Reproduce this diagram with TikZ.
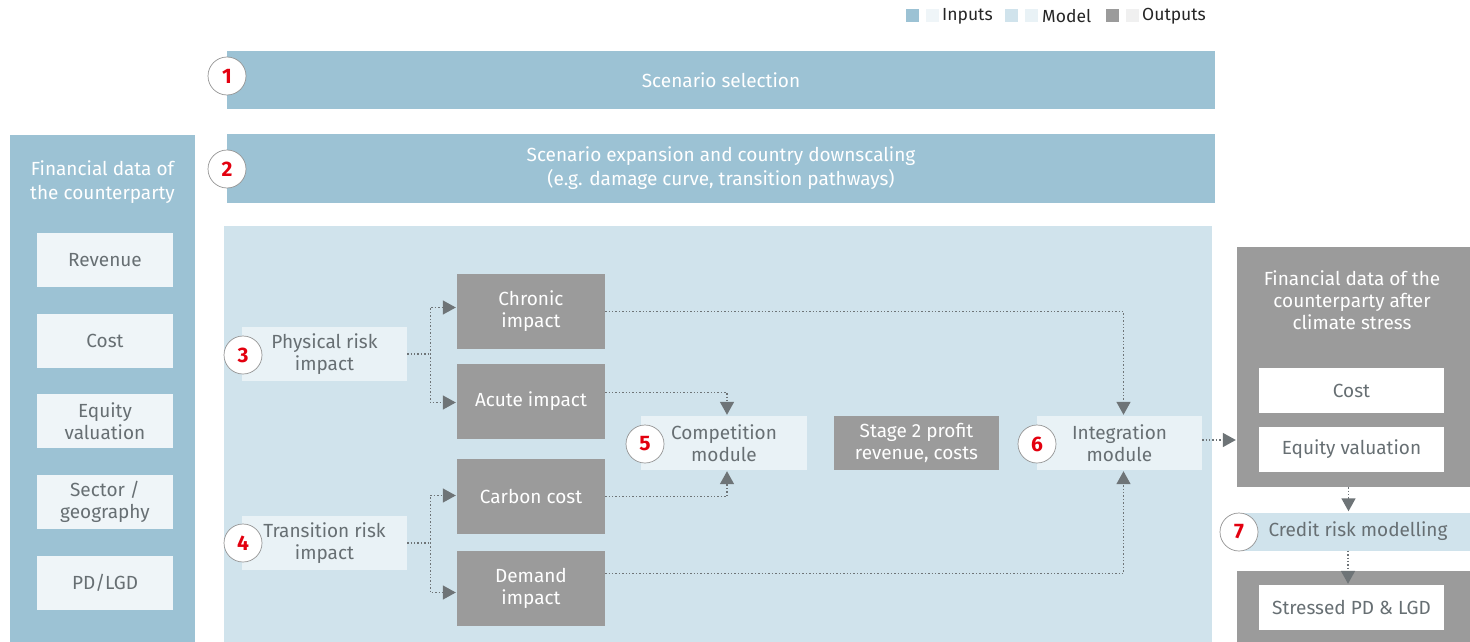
\documentclass[tikz,border=0pt]{standalone}
\usepackage{fontspec}
\setmainfont{Fira Sans}
\usetikzlibrary{arrows.meta}
\definecolor{indark}{HTML}{9CC2D4}
\definecolor{inlight}{HTML}{EFF5F8}
\definecolor{moddark}{HTML}{D0E3EC}
\definecolor{modlight}{HTML}{E9F2F6}
\definecolor{outdark}{HTML}{9B9B9B}
\definecolor{outlight}{HTML}{F0F0F0}
\definecolor{txtgray}{HTML}{676F73}
\definecolor{arrgray}{HTML}{6E7477}
\definecolor{numred}{HTML}{E3000F}
\tikzset{
  base/.style={inner sep=0pt, align=center, font=\fontsize{19}{22}\selectfont},
  inbar/.style={base, fill=indark, text=white},
  lightbox/.style={base, fill=inlight, text=txtgray},
  modbox/.style={base, fill=modlight, text=txtgray},
  graybox/.style={base, fill=outdark, text=white},
  whitebox/.style={base, fill=white, text=txtgray},
  numcirc/.style={circle, draw=gray!85, line width=0.7pt, fill=white, minimum size=38pt, inner sep=0pt, text=numred, font=\fontsize{21}{22}\selectfont\bfseries},
  flow/.style={draw=arrgray, line width=1.4pt, dash pattern=on 1.4pt off 2pt, -{Triangle[width=14pt,length=13pt,fill=arrgray]}, shorten >=1pt},
  line/.style={draw=arrgray, line width=1.4pt, dash pattern=on 1.4pt off 2pt},
  legsq/.style={minimum size=13pt, inner sep=0pt},
  legtxt/.style={anchor=west, inner sep=0pt, text=black!85, font=\fontsize{17.5}{18}\selectfont}
}
\begin{document}
\begin{tikzpicture}[x=1pt,y=-1pt]
\useasboundingbox (0,0) rectangle (1470,642);
\fill[white] (0,0) rectangle (1470,642);

% legend
\node[legsq, fill=indark] (l1a) at (912,16) {};
\node[legsq, fill=inlight] (l1b) at (932,16) {};
\node[legtxt] (l1t) at (942,16.5) {Inputs};
\node[legsq, fill=moddark] (l2a) at (1011,16) {};
\node[legsq, fill=modlight] (l2b) at (1031,16) {};
\node[legtxt] (l2t) at (1042,16.5) {Model};
\node[legsq, fill=outdark] (l3a) at (1112,16) {};
\node[legsq, fill=outlight] (l3b) at (1132,16) {};
\node[legtxt] (l3t) at (1142,16.5) {Outputs};

% top bars
\node[inbar, minimum width=988pt, minimum height=58pt] (scen) at (721,80) {\raisebox{-1.5pt}{Scenario selection}};
\node[inbar, minimum width=988pt, minimum height=69pt, font=\fontsize{19}{24}\selectfont] (expand) at (721,168.5) {Scenario expansion and country downscaling\\(e.g. damage curve, transition pathways)};
\node[numcirc] (n1) at (227,76) {1};
\node[numcirc] (n2) at (227,169) {2};

% left panel
\fill[indark] (10,135) rectangle (195,642);
\node[base, text=white, font=\fontsize{19}{24}\selectfont] (fintitle) at (102.5,182) {Financial data of\\the counterparty};
\node[lightbox, minimum width=136pt, minimum height=54pt] (rev) at (105,260) {Revenue};
\node[lightbox, minimum width=136pt, minimum height=54pt] (cost) at (105,341) {Cost};
\node[lightbox, minimum width=136pt, minimum height=54pt] (equity) at (105,421) {Equity\\valuation};
\node[lightbox, minimum width=136pt, minimum height=54pt] (sector) at (105,502) {Sector /\\geography};
\node[lightbox, minimum width=136pt, minimum height=54pt] (pdlgd) at (105,583) {PD/LGD};

% model area
\fill[moddark] (224,226) rectangle (1212,642);
\node[modbox, minimum width=165pt, minimum height=54pt] (phys) at (324.5,354) {Physical risk\\impact};
\node[modbox, minimum width=165pt, minimum height=54pt] (trans) at (324.5,543) {Transition risk\\impact};
\node[numcirc] (n3) at (243,355) {3};
\node[numcirc] (n4) at (243,543) {4};

\node[graybox, minimum width=148pt, minimum height=75pt] (chronic) at (531,311.5) {Chronic\\impact};
\node[graybox, minimum width=148pt, minimum height=75pt] (acute) at (531,401.5) {Acute impact};
\node[graybox, minimum width=148pt, minimum height=75pt] (carbon) at (531,496.5) {Carbon cost};
\node[graybox, minimum width=148pt, minimum height=75pt] (demand) at (531,588.5) {Demand\\impact};

\node[modbox, minimum width=166pt, minimum height=54pt] (comp) at (724,443) {Competition\\module};
\node[graybox, minimum width=165pt, minimum height=54pt] (stage) at (916.5,443) {Stage 2 profit\\revenue, costs};
\node[modbox, minimum width=165pt, minimum height=54pt] (integ) at (1119.5,443) {Integration\\module};
\node[numcirc] (n5) at (645,444) {5};
\node[numcirc] (n6) at (1037,444) {6};

% outputs
\node[graybox, minimum width=233pt, minimum height=240pt] (outbox) at (1353.5,367) {};
\node[base, text=white] (outtitle) at (1352,300) {Financial data of the\\counterparty after\\climate stress};
\node[whitebox, minimum width=185pt, minimum height=45pt] (ocost) at (1351.5,390.5) {Cost};
\node[whitebox, minimum width=185pt, minimum height=45pt] (oequity) at (1351.5,449.5) {Equity valuation};

\node[base, fill=moddark, text=txtgray, minimum width=230pt, minimum height=38pt] (credit) at (1355,531.5) {\hspace*{6pt}Credit risk modelling};
\node[numcirc] (n7) at (1239,532) {7};

\fill[outdark] (1237,571) rectangle (1470,642);
\node[whitebox, minimum width=185pt, minimum height=45pt] (stressed) at (1351.5,607.5) {Stressed PD \& LGD};

% connectors
\draw[line] (phys.east) -- ++(23,0) coordinate (pj);
\draw[flow] (pj) |- ([yshift=4pt]chronic.west);
\draw[flow] (pj) |- ([yshift=-1pt]acute.west);
\draw[line] (trans.east) -- ++(23,0) coordinate (tj);
\draw[flow] (tj) |- ([yshift=1pt]carbon.west);
\draw[flow] (tj) |- ([yshift=-4pt]demand.west);

\draw[flow] (chronic.east) -| ([xshift=4pt]integ.north);
\draw[flow] ([yshift=9pt]acute.east) -| ([xshift=3pt]comp.north);
\draw[flow] (carbon.east) -| ([xshift=3pt]comp.south);
\draw[flow] ([yshift=15pt]demand.east) -| ([xshift=4pt]integ.south);

\draw[flow] ([yshift=3pt]integ.east) -- ([yshift=3pt]integ.east -| outbox.west);
\draw[flow] ([xshift=-5pt]outbox.south) -- ([xshift=-5pt]outbox.south |- credit.north);
\coordinate (cs) at ([xshift=-7pt]credit.south);
\draw[flow] (cs) -- (cs |- stressed.north);
\end{tikzpicture}
\end{document}
